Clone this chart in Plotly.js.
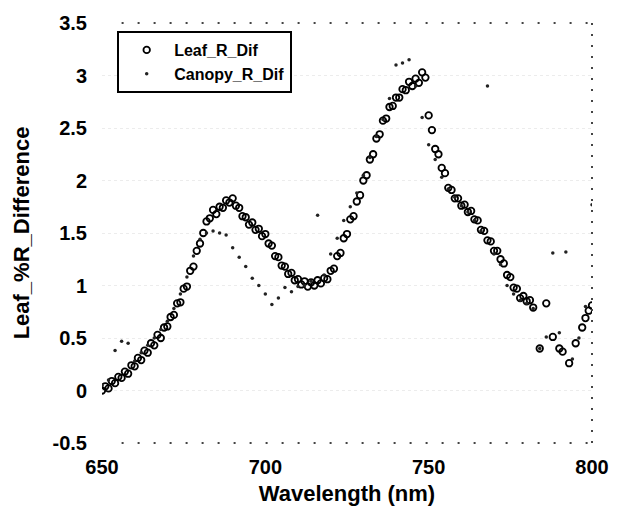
<!DOCTYPE html>
<html>
<head>
<meta charset="utf-8">
<script src="https://cdn.plot.ly/plotly-3.0.1.min.js"></script>
<style>html,body{margin:0;padding:0;background:#fff;}#chart{width:621px;height:506px;}</style>
</head>
<body>
<div id="chart"></div>
<script>
// Leaf series, 1 nm steps
const leafWavelengths = [650,651,652,653,654,655,656,657,658,659,660,661,662,663,664,665,666,667,668,669,670,671,672,673,674,675,676,677,678,679,680,681,682,683,684,685,686,687,688,689,690,691,692,693,694,695,696,697,698,699,700,701,702,703,704,705,706,707,708,709,710,711,712,713,714,715,716,717,718,719,720,721,722,723,724,725,726,727,728,729,730,731,732,733,734,735,736,737,738,739,740,741,742,743,744,745,746,747,748,749,750,751,752,753,754,755,756,757,758,759,760,761,762,763,764,765,766,767,768,769,770,771,772,773,774,775,776,777,778,779,780,781,782,783,784,785,786,787,788,789,790,791,792,793,794,795,796,797,798,799,800];
const leafRDif = [0.00,0.04,0.02,0.09,0.07,0.13,0.12,0.18,0.16,0.24,0.23,0.31,0.29,0.38,0.36,0.45,0.43,0.53,0.50,0.60,0.61,0.70,0.72,0.83,0.84,0.97,0.99,1.14,1.18,1.33,1.40,1.50,1.61,1.64,1.72,1.68,1.75,1.74,1.81,1.79,1.83,1.76,1.74,1.66,1.65,1.58,1.60,1.53,1.54,1.47,1.49,1.40,1.38,1.28,1.27,1.19,1.18,1.11,1.12,1.05,1.06,1.01,1.04,0.99,1.03,1.00,1.05,1.02,1.07,1.06,1.14,1.16,1.28,1.31,1.45,1.49,1.63,1.66,1.80,1.86,2.00,2.05,2.20,2.25,2.40,2.44,2.57,2.59,2.70,2.71,2.79,2.79,2.87,2.86,2.94,2.90,2.97,2.93,3.03,2.98,2.62,2.48,2.30,2.25,2.12,2.07,1.93,1.91,1.83,1.83,1.76,1.77,1.70,1.71,1.63,1.62,1.53,1.52,1.43,1.42,1.33,1.33,1.25,1.21,1.10,1.08,0.98,0.97,0.88,0.90,0.85,0.86,0.79,null,0.40,null,0.83,null,0.51,null,0.40,0.37,null,0.26,null,0.45,null,0.60,0.69,0.76,0.81];
// Canopy series, 2 nm steps
const canopyWavelengths = [650,652,654,656,658,660,662,664,666,668,670,672,674,676,678,680,682,684,686,688,690,692,694,696,698,700,702,704,706,708,710,712,714,716,718,720,722,724,726,728,730,732,734,736,738,740,742,744,746,748,750,752,754,756,758,760,762,764,766,768,770,772,774,776,778,780,782,784,786,788,790,792,794,796,798,800];
const canopyRDif = [0.05,0.10,0.38,0.47,0.45,0.28,0.36,0.43,0.50,0.58,0.66,0.78,0.92,1.08,1.28,1.44,1.50,1.52,1.50,1.48,1.36,1.27,1.18,1.07,1.00,0.92,0.82,0.88,0.98,0.94,0.99,1.00,1.04,1.67,1.10,1.30,1.45,1.62,1.75,1.88,2.05,2.22,2.42,2.58,2.78,3.10,3.12,3.15,2.90,2.60,2.34,2.20,2.03,1.92,1.84,1.76,1.70,1.62,1.52,2.90,1.30,1.20,1.00,0.92,0.86,0.83,0.78,0.40,0.51,1.31,0.55,1.32,0.30,0.50,0.80,1.77];
const xTicks = [650,700,750,800];
const yTicks = [-0.5,0,0.5,1,1.5,2,2.5,3,3.5];

const fam = '"Liberation Sans", Arial, Helvetica, sans-serif';
const tickFont = {family:fam, size:20, color:'#000', weight:700};
const titleFont = {family:fam, size:22, color:'#000', weight:700};

const traces = [
  {name:'Leaf_R_Dif', x:leafWavelengths, y:leafRDif, type:'scatter', mode:'markers',
   marker:{symbol:'circle-open', size:6.5, color:'#000', line:{width:1.8, color:'#000'}}},
  {name:'Canopy_R_Dif', x:canopyWavelengths, y:canopyRDif, type:'scatter', mode:'markers',
   marker:{symbol:'circle', size:3.5, color:'#222'}}
];

const layout = {
  width:621, height:506,
  margin:{l:102, r:29, t:23, b:63},
  paper_bgcolor:'#fff', plot_bgcolor:'#fff',
  showlegend:true,
  legend:{x:0.031, y:0.981, xanchor:'left', yanchor:'top', bgcolor:'#fff', bordercolor:'#000', borderwidth:2,
    font:{family:fam, size:16, color:'#000', weight:700},
    itemwidth:45, tracegroupgap:0},
  xaxis:{range:[650,800], tickvals:xTicks, ticktext:xTicks.map(String), showgrid:false, zeroline:false,
    showline:false, ticks:'', tickfont:tickFont, ticklabelstandoff:10, automargin:false,
    title:{text:'Wavelength (nm)', font:titleFont, standoff:8}},
  yaxis:{range:[-0.5,3.5], tickvals:yTicks, ticktext:yTicks.map(String), showgrid:true, gridcolor:'#ececec', griddash:'dot', gridwidth:1,
    zeroline:false, showline:false, ticks:'', tickfont:tickFont, ticklabelstandoff:14, automargin:false,
    title:{text:'Leaf_%R_Difference', font:titleFont, standoff:16}},
  shapes:[
    {type:'line', xref:'paper', yref:'paper', x0:0.04, x1:1, y0:1, y1:1, line:{color:'#444', width:2, dash:'2px,14px'}},
    {type:'line', xref:'paper', yref:'paper', x0:0.04, x1:1, y0:0, y1:0, line:{color:'#444', width:2, dash:'2px,14px'}},
    {type:'line', xref:'paper', yref:'paper', x0:1, x1:1, y0:0, y1:1, line:{color:'#444', width:2, dash:'2px,9px'}}
  ]
};

Plotly.newPlot('chart', traces, layout, {displayModeBar:false, staticPlot:true});
</script>
</body>
</html>
